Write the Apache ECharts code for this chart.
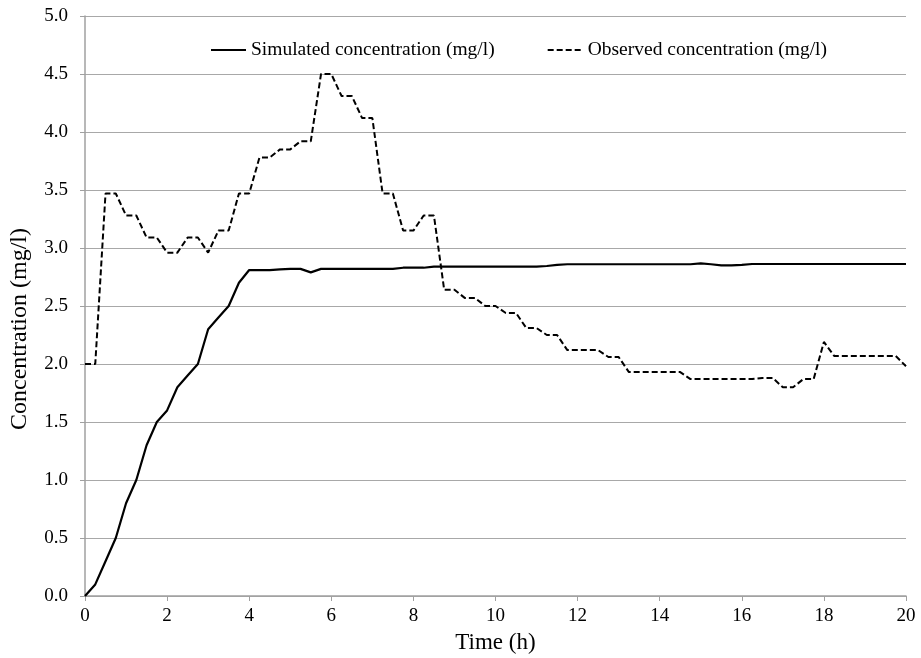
<!DOCTYPE html>
<html>
<head>
<meta charset="utf-8">
<script src="https://cdn.jsdelivr.net/npm/echarts@6/dist/echarts.min.js"></script>
<style>html,body{margin:0;padding:0;background:#fff;}#c{width:921px;height:658px;}</style>
</head>
<body>
<div id="c"></div>
<script>
const times = [0,0.25,0.5,0.75,1,1.25,1.5,1.75,2,2.25,2.5,2.75,3,3.25,3.5,3.75,4,4.25,4.5,4.75,5,5.25,5.5,5.75,6,6.25,6.5,6.75,7,7.25,7.5,7.75,8,8.25,8.5,8.75,9,9.25,9.5,9.75,10,10.25,10.5,10.75,11,11.25,11.5,11.75,12,12.25,12.5,12.75,13,13.25,13.5,13.75,14,14.25,14.5,14.75,15,15.25,15.5,15.75,16,16.25,16.5,16.75,17,17.25,17.5,17.75,18,18.25,18.5,18.75,19,19.25,19.5,19.75,20];
const simulated = [0,0.1,0.3,0.5,0.8,1.0,1.3,1.5,1.6,1.8,1.9,2.0,2.3,2.4,2.5,2.7,2.81,2.81,2.81,2.815,2.82,2.82,2.79,2.82,2.82,2.82,2.82,2.82,2.82,2.82,2.82,2.83,2.83,2.83,2.84,2.84,2.84,2.84,2.84,2.84,2.84,2.84,2.84,2.84,2.84,2.845,2.855,2.86,2.86,2.86,2.86,2.86,2.86,2.86,2.86,2.86,2.86,2.86,2.86,2.86,2.868,2.86,2.85,2.85,2.855,2.862,2.862,2.862,2.862,2.862,2.862,2.862,2.862,2.862,2.862,2.862,2.862,2.862,2.862,2.862,2.862];
const observed = [2.0,2.0,3.47,3.47,3.28,3.28,3.09,3.09,2.96,2.96,3.09,3.09,2.96,3.15,3.15,3.47,3.47,3.78,3.78,3.85,3.85,3.92,3.92,4.5,4.5,4.31,4.31,4.12,4.12,3.47,3.47,3.15,3.15,3.28,3.28,2.64,2.64,2.57,2.57,2.50,2.50,2.44,2.44,2.31,2.31,2.25,2.25,2.12,2.12,2.12,2.12,2.06,2.06,1.93,1.93,1.93,1.93,1.93,1.93,1.87,1.87,1.87,1.87,1.87,1.87,1.87,1.88,1.88,1.80,1.80,1.87,1.87,2.19,2.07,2.07,2.07,2.07,2.07,2.07,2.07,1.98];
const seriesNames = ['Simulated concentration (mg/l)', 'Observed concentration (mg/l)'];
const xTitle = 'Time (h)';
const yTitle = 'Concentration (mg/l)';

const font = '"Liberation Serif", "Times New Roman", serif';
const pair = (vals) => times.map((t, i) => [t, vals[i]]);
const chart = echarts.init(document.getElementById('c'), null, {renderer: 'canvas'});
chart.setOption({
  animation: false,
  backgroundColor: '#ffffff',
  grid: {left: 85, right: 15, top: 16, bottom: 62, containLabel: false, outerBoundsMode: 'none'},
  legend: {
    data: seriesNames,
    left: 210, top: 40, padding: 0,
    itemWidth: 35, itemHeight: 14, itemGap: 52,
    itemStyle: {opacity: 0},
    textStyle: {fontFamily: font, fontSize: 19.5, color: '#000'}
  },
  xAxis: {
    type: 'value', min: 0, max: 20, interval: 2,
    name: xTitle, nameLocation: 'middle', nameGap: 35,
    nameTextStyle: {fontFamily: font, fontSize: 23, color: '#000'},
    axisLine: {show: true, lineStyle: {color: '#a0a0a0', width: 1.5}},
    axisTick: {show: true, length: 5, lineStyle: {color: '#a0a0a0'}},
    axisLabel: {fontFamily: font, fontSize: 19, color: '#000', margin: 11},
    splitLine: {show: false}
  },
  yAxis: {
    type: 'value', min: 0, max: 5, interval: 0.5,
    name: yTitle, nameLocation: 'middle', nameGap: 53,
    nameTextStyle: {fontFamily: font, fontSize: 24, color: '#000', padding: [0, 46, 0, 0]},
    axisLine: {show: true, lineStyle: {color: '#a0a0a0', width: 1.5}},
    axisTick: {show: true, length: 5, lineStyle: {color: '#a0a0a0'}},
    axisLabel: {fontFamily: font, fontSize: 19, color: '#000', margin: 17,
      formatter: v => v.toFixed(1)},
    splitLine: {show: true, lineStyle: {color: '#a8a8a8', width: 1.2}}
  },
  series: [
    {name: seriesNames[0], type: 'line', data: pair(simulated), symbol: 'none',
     lineStyle: {color: '#000', width: 2.2, type: 'solid'}, itemStyle: {color: '#000'}},
    {name: seriesNames[1], type: 'line', data: pair(observed), symbol: 'none',
     lineStyle: {color: '#000', width: 2, type: [6, 3]}, itemStyle: {color: '#000'}}
  ]
});
</script>
</body>
</html>
